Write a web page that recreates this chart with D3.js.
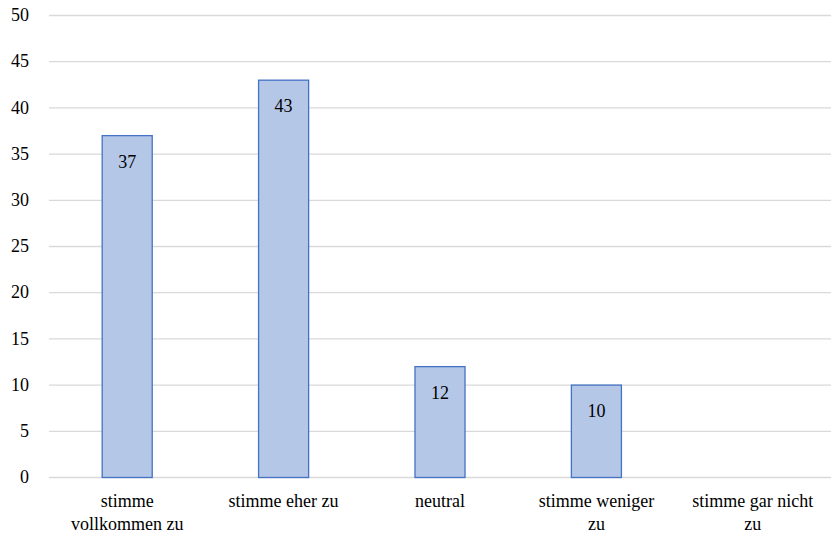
<!DOCTYPE html>
<html>
<head>
<meta charset="utf-8">
<script src="https://cdn.jsdelivr.net/npm/d3@7"></script>
</head>
<body style="margin:0;padding:0;background:#fff">
<svg id="fig" width="834" height="541" style="display:block"></svg>
<script>
// Antworten und Anzahl der Nennungen
const categories = ["stimme vollkommen zu", "stimme eher zu", "neutral", "stimme weniger zu", "stimme gar nicht zu"];
const counts = [37, 43, 12, 10, 0];
const yTicks = [0, 5, 10, 15, 20, 25, 30, 35, 40, 45, 50];

const FONT = "Liberation Serif";
const svg = d3.select("#fig");
const plotLeft = 49, plotRight = 831, plotTop = 15.5, plotBottom = 477.5;

const x = d3.scaleBand().domain(categories).range([plotLeft, plotRight]).paddingInner(0.68).paddingOuter(0.34);
const y = d3.scaleLinear().domain([0, 50]).range([plotBottom, plotTop]);

function styleText(sel) {
  return sel.attr("font-family", FONT).attr("font-size", 18).attr("fill", "#000");
}

// Gitterlinien
svg.selectAll("line.grid").data(yTicks).join("line")
  .attr("class", "grid")
  .attr("x1", plotLeft).attr("x2", plotRight)
  .attr("y1", d => y(d)).attr("y2", d => y(d))
  .attr("stroke", "#d9d9d9").attr("stroke-width", 1.3);

// Y-Achsenbeschriftung
styleText(svg.selectAll("text.ytick").data(yTicks).join("text"))
  .attr("class", "ytick")
  .attr("x", plotLeft - 20)
  .attr("y", d => y(d))
  .attr("dy", "0.32em")
  .attr("text-anchor", "end")
  .text(d => d);

// Balken
const data = categories.map((c, i) => ({ c, v: counts[i] })).filter(d => d.v > 0);
svg.selectAll("rect.bar").data(data).join("rect")
  .attr("class", "bar")
  .attr("x", d => x(d.c)).attr("width", x.bandwidth())
  .attr("y", d => y(d.v)).attr("height", d => y(0) - y(d.v))
  .attr("fill", "#b4c7e7").attr("stroke", "#4472c4").attr("stroke-width", 1.3);

// Wertbeschriftungen
styleText(svg.selectAll("text.value").data(data).join("text"))
  .attr("class", "value")
  .attr("x", d => x(d.c) + x.bandwidth() / 2)
  .attr("y", d => y(d.v) + 32)
  .attr("text-anchor", "middle")
  .text(d => d.v);

// Kategoriebeschriftungen mit Zeilenumbruch
const maxW = 125;
categories.forEach(c => {
  const cx = x(c) + x.bandwidth() / 2;
  const probe = styleText(svg.append("text"));
  const words = c.split(" ");
  let lines = [], line = [];
  words.forEach(w => {
    const test = line.concat(w).join(" ");
    probe.text(test);
    if (line.length && probe.node().getComputedTextLength() > maxW) {
      lines.push(line.join(" "));
      line = [w];
    } else line.push(w);
  });
  lines.push(line.join(" "));
  probe.remove();
  lines.forEach((l, i) => {
    styleText(svg.append("text"))
      .attr("x", cx).attr("y", 507 + i * 23)
      .attr("text-anchor", "middle")
      .text(l);
  });
});
</script>
</body>
</html>
